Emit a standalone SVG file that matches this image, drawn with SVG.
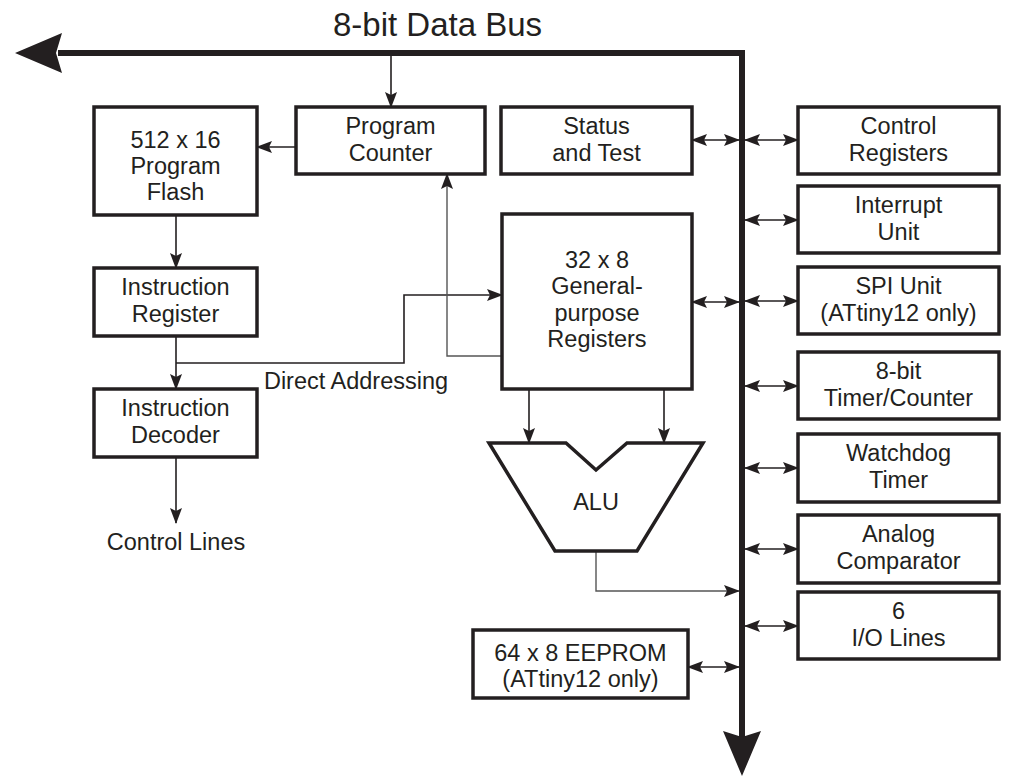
<svg xmlns="http://www.w3.org/2000/svg" width="1014" height="778" viewBox="0 0 1014 778">
<defs>
<style>
.box{fill:#fff;stroke:#231f20;stroke-width:3.5}
.t{font-family:"Liberation Sans",Arial,sans-serif;font-size:23.5px;fill:#231f20;text-anchor:middle}
.title{font-family:"Liberation Sans",Arial,sans-serif;font-size:33px;fill:#231f20}
.ln{fill:none;stroke:#231f20;stroke-width:1.6}
.gl{fill:none;stroke:#555;stroke-width:1.4}
.bus{fill:none;stroke:#231f20;stroke-width:6;stroke-linejoin:miter}
.head{fill:#231f20}
</style>
<marker id="ah" viewBox="0 0 16 12" refX="15" refY="6" markerWidth="16" markerHeight="12" markerUnits="userSpaceOnUse" orient="auto-start-reverse">
<path d="M0,0 L16,6 L0,12 L3,6 z" fill="#231f20"/>
</marker>
</defs>
<rect width="1014" height="778" fill="#fff"/>
<text class="title" x="333" y="36">8-bit Data Bus</text>
<g id="connectors">
<path class="bus" d="M58,53 H742 V738"/>
<polygon class="head" points="15,53 62,33 56,53 62,73"/>
<polygon class="head" points="742,776 723,731 742,737 761,731"/>
<path class="ln" d="M391,56 V107" marker-end="url(#ah)"/>
<path class="ln" d="M296,147 H257" marker-end="url(#ah)"/>
<path class="ln" d="M176,215 V268" marker-end="url(#ah)"/>
<path class="ln" d="M176,336 V389" marker-end="url(#ah)"/>
<path class="ln" d="M176,457 V523" marker-end="url(#ah)"/>
<path class="ln" d="M176,363 H404 V295 H502" marker-end="url(#ah)"/>
<path class="gl" d="M502,356 H447 V174" marker-end="url(#ah)"/>
<path class="ln" d="M529,389 V443" marker-end="url(#ah)"/>
<path class="ln" d="M664,389 V443" marker-end="url(#ah)"/>
<path class="gl" d="M596,551 V591 H739" marker-end="url(#ah)"/>
<path class="ln" d="M692,140 H739" marker-start="url(#ah)" marker-end="url(#ah)"/>
<path class="ln" d="M692,302 H739" marker-start="url(#ah)" marker-end="url(#ah)"/>
<path class="ln" d="M688,667 H739" marker-start="url(#ah)" marker-end="url(#ah)"/>
<path class="ln" d="M745,140 H798" marker-start="url(#ah)" marker-end="url(#ah)"/>
<path class="ln" d="M745,220 H798" marker-start="url(#ah)" marker-end="url(#ah)"/>
<path class="ln" d="M745,301 H798" marker-start="url(#ah)" marker-end="url(#ah)"/>
<path class="ln" d="M745,386 H798" marker-start="url(#ah)" marker-end="url(#ah)"/>
<path class="ln" d="M745,468 H798" marker-start="url(#ah)" marker-end="url(#ah)"/>
<path class="ln" d="M745,549 H798" marker-start="url(#ah)" marker-end="url(#ah)"/>
<path class="ln" d="M745,626 H798" marker-start="url(#ah)" marker-end="url(#ah)"/>
</g>
<g id="flash"><rect class="box" x="94" y="107" width="163" height="108"/>
<text class="t" x="175.5" y="148">512 x 16</text><text class="t" x="175.5" y="174">Program</text><text class="t" x="175.5" y="200">Flash</text></g>
<g id="pc"><rect class="box" x="296" y="107" width="189" height="67"/>
<text class="t" x="390.5" y="134">Program</text><text class="t" x="390.5" y="161">Counter</text></g>
<g id="status"><rect class="box" x="501" y="107" width="191" height="67"/>
<text class="t" x="596.5" y="134">Status</text><text class="t" x="596.5" y="161">and Test</text></g>
<g id="ir"><rect class="box" x="94" y="268" width="163" height="68"/>
<text class="t" x="175.5" y="295">Instruction</text><text class="t" x="175.5" y="322">Register</text></g>
<g id="id"><rect class="box" x="94" y="389" width="163" height="68"/>
<text class="t" x="175.5" y="416">Instruction</text><text class="t" x="175.5" y="443">Decoder</text></g>
<text class="t" x="176" y="550">Control Lines</text>
<text class="t" x="356" y="389">Direct Addressing</text>
<g id="regs"><rect class="box" x="502" y="214" width="190" height="175"/>
<text class="t" x="597" y="268">32 x 8</text><text class="t" x="597" y="294">General-</text><text class="t" x="597" y="321">purpose</text><text class="t" x="597" y="347">Registers</text></g>
<g id="alu"><polygon class="box" points="489,443 566,443 596,470 627,443 703,443 637,551 555,551"/>
<text class="t" x="596" y="510">ALU</text></g>
<g id="eeprom"><rect class="box" x="473" y="630" width="215" height="68"/>
<text class="t" x="580.5" y="661">64 x 8 EEPROM</text><text class="t" x="580.5" y="687">(ATtiny12 only)</text></g>
<g id="ctrl"><rect class="box" x="798" y="107" width="201" height="67"/>
<text class="t" x="898.5" y="134">Control</text><text class="t" x="898.5" y="161">Registers</text></g>
<g id="intr"><rect class="box" x="798" y="186" width="201" height="67"/>
<text class="t" x="898.5" y="213">Interrupt</text><text class="t" x="898.5" y="240">Unit</text></g>
<g id="spi"><rect class="box" x="798" y="267" width="201" height="67"/>
<text class="t" x="898.5" y="294">SPI Unit</text><text class="t" x="898.5" y="321">(ATtiny12 only)</text></g>
<g id="timer"><rect class="box" x="798" y="352" width="201" height="67"/>
<text class="t" x="898.5" y="379">8-bit</text><text class="t" x="898.5" y="406">Timer/Counter</text></g>
<g id="wdt"><rect class="box" x="798" y="434" width="201" height="68"/>
<text class="t" x="898.5" y="461">Watchdog</text><text class="t" x="898.5" y="488">Timer</text></g>
<g id="analog"><rect class="box" x="798" y="515" width="201" height="68"/>
<text class="t" x="898.5" y="542">Analog</text><text class="t" x="898.5" y="569">Comparator</text></g>
<g id="io"><rect class="box" x="798" y="592" width="201" height="67"/>
<text class="t" x="898.5" y="619">6</text><text class="t" x="898.5" y="646">I/O Lines</text></g>
</svg>
